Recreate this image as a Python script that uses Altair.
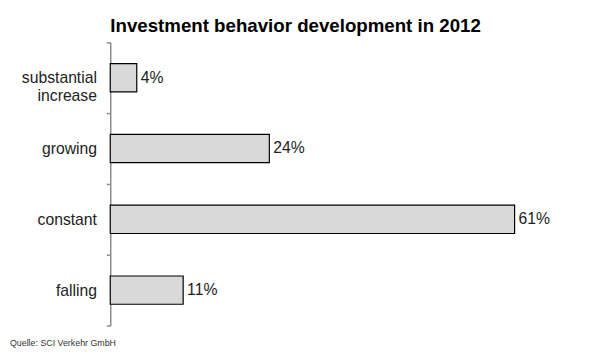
import altair as alt
import pandas as pd

categories = ["substantial increase", "growing", "constant", "falling"]
values = [4, 24, 61, 11]
labels = ["4%", "24%", "61%", "11%"]

df = pd.DataFrame({"cat": categories, "val": values, "lab": labels})

y_enc = alt.Y("cat:N", sort=categories,
              scale=alt.Scale(paddingInner=0, paddingOuter=0),
              axis=alt.Axis(title=None, ticks=True, tickBand="extent", tickExtra=True, tickSize=4,
                            labelPadding=10, labelFontSize=16, labelColor="#222222",
                            labelFont="Liberation Sans",
                            labelExpr="split(datum.label, ' ')", labelLineHeight=18,
                            domainColor="#8a8a8a", tickColor="#8a8a8a", domainWidth=1.5, tickWidth=1.5))
x_enc = alt.X("val:Q", scale=alt.Scale(domain=[0, 66], nice=False), axis=None)

bars = alt.Chart(df).mark_bar(fill="#d9d9d9", stroke="#000000", strokeWidth=1.2,
                              height=alt.RelativeBandSize(0.4)).encode(x=x_enc, y=y_enc)
text = alt.Chart(df).mark_text(align="left", dx=4, fontSize=16, color="#222222",
                               font="Liberation Sans").encode(x=x_enc, y=alt.Y("cat:N", sort=categories), text="lab:N")
src = alt.Chart(pd.DataFrame({"t": ["Quelle: SCI Verkehr GmbH"]})).mark_text(
    align="left", baseline="middle", fontSize=9, color="#333333", font="Liberation Sans"
).encode(x=alt.value(-102), y=alt.value(306), text="t:N")

chart = alt.layer(bars, text, src).properties(
    width=445, height=288,
    title=alt.TitleParams("Investment behavior development in 2012", fontSize=19, font="Liberation Sans",
                          fontWeight="bold", color="#000000", anchor="middle", dx=-34, offset=-1),
    autosize=alt.AutoSizeParams(type="none"),
    padding={"left": 104, "top": 32, "right": 45, "bottom": 25},
).configure_view(stroke=None)

chart.save("out.html", embed_options={"renderer": "svg", "actions": False})
